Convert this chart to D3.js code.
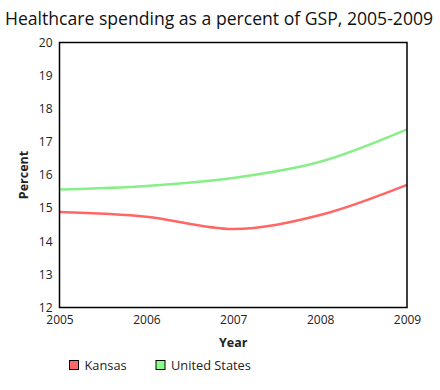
<!DOCTYPE html>
<html>
<head>
<meta charset="utf-8">
<script src="https://cdn.jsdelivr.net/npm/d3@7"></script>
<style>
  body { margin: 0; background: #fff; font-family: "Open Sans", sans-serif; }
  .axis path, .axis line { display: none; }
  .axis text { font-family: "Open Sans", sans-serif; font-size: 12px; fill: #222; }
</style>
</head>
<body>
<script>
/* chart data */
var years = [2005, 2006, 2007, 2008, 2009];
var kansas = [14.88, 14.74, 14.37, 14.79, 15.70];
var unitedStates = [15.56, 15.67, 15.91, 16.40, 17.38];
var seriesNames = ["Kansas", "United States"];
var yTicks = [12, 13, 14, 15, 16, 17, 18, 19, 20];

var width = 440,
    height = 390;

var margin = {left: 59.5, right: 33, top: 42.5, bottom: 82.5};

var colors = ["#ff6666", "#88ee88"];
var legendFill = ["#ff6666", "#88ff88"];

var svg = d3.select("body").append("svg")
    .attr("width", width)
    .attr("height", height);

var xScale = d3.scaleLinear()
    .domain([2005, 2009])
    .range([margin.left, width - margin.right]);

var yScale = d3.scaleLinear()
    .domain([12, 20])
    .range([height - margin.bottom, margin.top]);

// title
svg.append("text")
    .attr("x", 219)
    .attr("y", 24.5)
    .attr("text-anchor", "middle")
    .style("font-size", "17.6px")
    .style("fill", "#111")
    .text("Healthcare spending as a percent of GSP, 2005-2009");

// axes
var xAxis = d3.axisBottom(xScale)
    .tickValues(years)
    .tickFormat(d3.format("d"))
    .tickSize(0)
    .tickPadding(8);

var yAxis = d3.axisLeft(yScale)
    .tickValues(yTicks)
    .tickSize(0)
    .tickPadding(7);

svg.append("g")
    .attr("class", "x axis")
    .attr("transform", "translate(0," + (height - margin.bottom) + ")")
    .call(xAxis);

svg.append("g")
    .attr("class", "y axis")
    .attr("transform", "translate(" + margin.left + ",0)")
    .call(yAxis);

// lines
var line = d3.line()
    .x(function(d, i) { return xScale(years[i]); })
    .y(function(d) { return yScale(d); })
    .curve(d3.curveMonotoneX);

[kansas, unitedStates].forEach(function(s, i) {
    svg.append("path")
        .datum(s)
        .attr("d", line)
        .attr("fill", "none")
        .attr("stroke", colors[i])
        .attr("stroke-width", 2.5);
});

// frame
svg.append("rect")
    .attr("x", margin.left)
    .attr("y", margin.top)
    .attr("width", width - margin.left - margin.right)
    .attr("height", height - margin.top - margin.bottom)
    .attr("fill", "none")
    .attr("stroke", "#000")
    .attr("stroke-width", 1.5);

// axis labels
svg.append("text")
    .attr("x", (margin.left + width - margin.right) / 2)
    .attr("y", 347)
    .attr("text-anchor", "middle")
    .style("font-size", "12.5px")
    .style("font-weight", "bold")
    .style("fill", "#222")
    .text("Year");

svg.append("text")
    .attr("transform", "translate(28," + ((margin.top + height - margin.bottom) / 2) + ") rotate(-90)")
    .attr("text-anchor", "middle")
    .style("font-size", "12.5px")
    .style("font-weight", "bold")
    .style("fill", "#222")
    .text("Percent");

// legend
var legendX = [69.5, 156];
seriesNames.forEach(function(name, i) {
    svg.append("rect")
        .attr("x", legendX[i])
        .attr("y", 360.5)
        .attr("width", 9)
        .attr("height", 9)
        .attr("fill", legendFill[i])
        .attr("stroke", "#000")
        .attr("stroke-width", 1);
    svg.append("text")
        .attr("x", legendX[i] + 15)
        .attr("y", 369.5)
        .style("font-size", "12.8px")
        .style("fill", "#222")
        .text(name);
});
</script>
</body>
</html>
